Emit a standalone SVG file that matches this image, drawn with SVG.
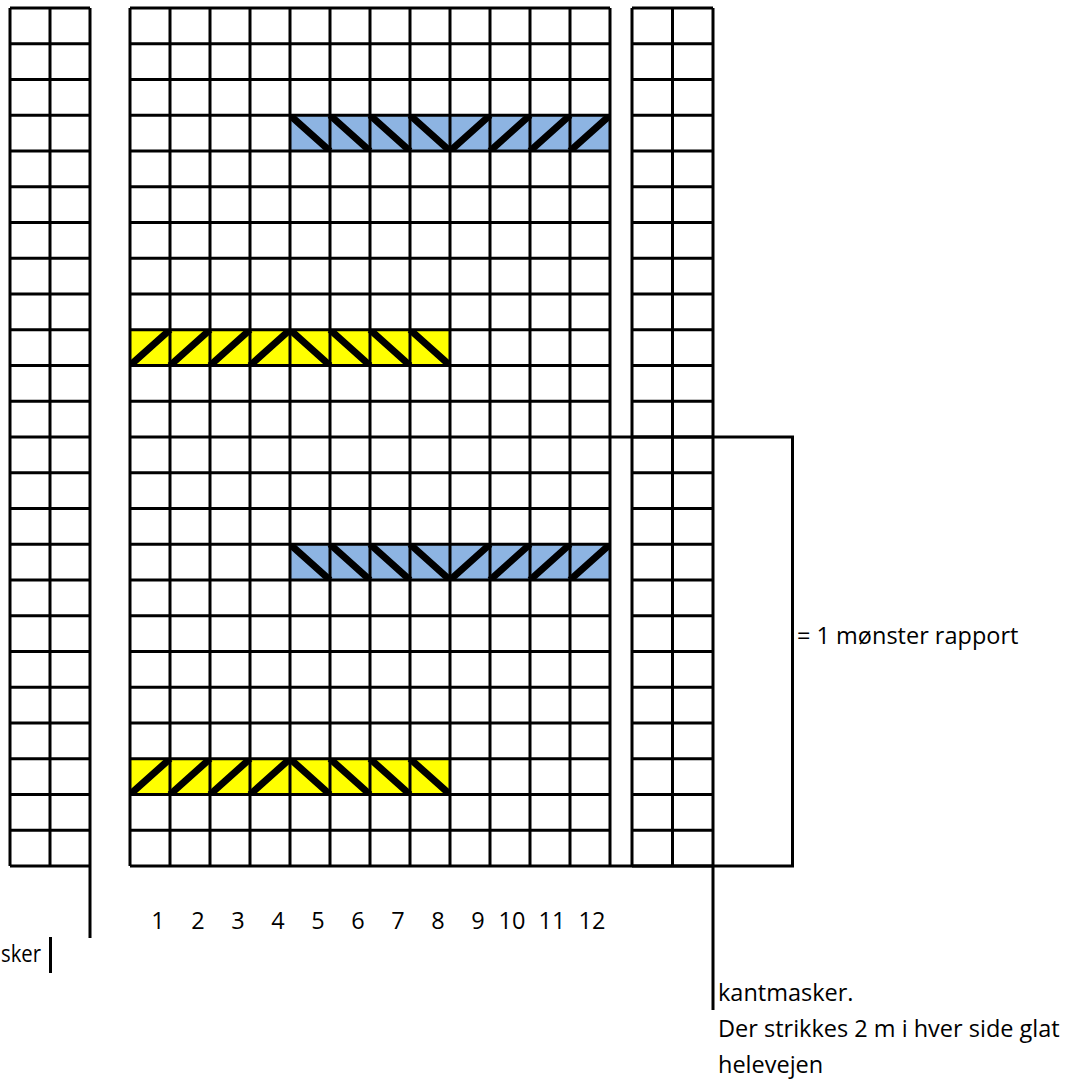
<svg xmlns="http://www.w3.org/2000/svg" width="1072" height="1079" viewBox="0 0 1072 1079">
<style>
.grid{fill:none;stroke:#000;stroke-width:3}
.diag{fill:none;stroke:#000;stroke-width:7;stroke-linecap:butt}
.blue{fill:#8DB4E2}
.yellow{fill:#FFFF00}
text{font-family:"Open Sans","Liberation Sans",sans-serif;font-size:23.5px;fill:#000}
.num{text-anchor:middle}
</style>
<defs>
<clipPath id="cb1"><rect x="290" y="115.25" width="320" height="35.75"/></clipPath>
<clipPath id="cb2"><rect x="290" y="544.25" width="320" height="35.75"/></clipPath>
<clipPath id="cy1"><rect x="130" y="329.75" width="320" height="35.75"/></clipPath>
<clipPath id="cy2"><rect x="130" y="758.75" width="320" height="35.75"/></clipPath>
</defs>
<rect width="1072" height="1079" fill="#fff"/>

<g id="pattern-rows">
<g id="blue-row-1">
<rect class="blue" x="290" y="115.25" width="320" height="35.75"/>
<path class="diag" clip-path="url(#cb1)" d="M290 115.25L330 151M330 115.25L370 151M370 115.25L410 151M410 115.25L450 151M450 151L490 115.25M490 151L530 115.25M530 151L570 115.25M570 151L610 115.25"/>
</g>
<g id="yellow-row-1">
<rect class="yellow" x="130" y="329.75" width="320" height="35.75"/>
<path class="diag" clip-path="url(#cy1)" d="M130 365.5L170 329.75M170 365.5L210 329.75M210 365.5L250 329.75M250 365.5L290 329.75M290 329.75L330 365.5M330 329.75L370 365.5M370 329.75L410 365.5M410 329.75L450 365.5"/>
</g>
<g id="blue-row-2">
<rect class="blue" x="290" y="544.25" width="320" height="35.75"/>
<path class="diag" clip-path="url(#cb2)" d="M290 544.25L330 580M330 544.25L370 580M370 544.25L410 580M410 544.25L450 580M450 580L490 544.25M490 580L530 544.25M530 580L570 544.25M570 580L610 544.25"/>
</g>
<g id="yellow-row-2">
<rect class="yellow" x="130" y="758.75" width="320" height="35.75"/>
<path class="diag" clip-path="url(#cy2)" d="M130 794.5L170 758.75M170 794.5L210 758.75M210 794.5L250 758.75M250 794.5L290 758.75M290 758.75L330 794.5M330 758.75L370 794.5M370 758.75L410 794.5M410 758.75L450 794.5"/>
</g>
</g>

<g id="left-grid">
<path class="grid" d="M10 8V866M50 8V866M90 8V938"/>
<path class="grid" d="M10 8H90M10 43.75H90M10 79.5H90M10 115.25H90M10 151H90M10 186.75H90M10 222.5H90M10 258.25H90M10 294H90M10 329.75H90M10 365.5H90M10 401.25H90M10 437H90M10 472.75H90M10 508.5H90M10 544.25H90M10 580H90M10 615.75H90M10 651.5H90M10 687.25H90M10 723H90M10 758.75H90M10 794.5H90M10 830.25H90M10 866H90"/>
</g>

<g id="main-grid">
<path class="grid" d="M130 8V866M170 8V866M210 8V866M250 8V866M290 8V866M330 8V866M370 8V866M410 8V866M450 8V866M490 8V866M530 8V866M570 8V866M610 8V866"/>
<path class="grid" d="M130 8H610M130 43.75H610M130 79.5H610M130 115.25H610M130 151H610M130 186.75H610M130 222.5H610M130 258.25H610M130 294H610M130 329.75H610M130 365.5H610M130 401.25H610M130 437H610M130 472.75H610M130 508.5H610M130 544.25H610M130 580H610M130 615.75H610M130 651.5H610M130 687.25H610M130 723H610M130 758.75H610M130 794.5H610M130 830.25H610M130 866H610"/>
</g>

<g id="right-grid">
<path class="grid" d="M632 8V866M672.5 8V866M713 8V1010"/>
<path class="grid" d="M632 8H713M632 43.75H713M632 79.5H713M632 115.25H713M632 151H713M632 186.75H713M632 222.5H713M632 258.25H713M632 294H713M632 329.75H713M632 365.5H713M632 401.25H713M632 437H713M632 472.75H713M632 508.5H713M632 544.25H713M632 580H713M632 615.75H713M632 651.5H713M632 687.25H713M632 723H713M632 758.75H713M632 794.5H713M632 830.25H713M632 866H713"/>
</g>

<g id="connectors">
<path class="grid" d="M610 437H792.5V866H610"/>
<path class="grid" d="M50.5 937V973"/>
</g>

<g id="labels">
<text x="797" y="644">= 1 mønster rapport</text>
<text x="1" y="962" textLength="40" lengthAdjust="spacingAndGlyphs">sker</text>
<text x="718" y="1001">kantmasker.</text>
<text x="718" y="1037">Der strikkes 2 m i hver side glat</text>
<text x="718" y="1073">helevejen</text>
<g class="num">
<text x="158" y="929">1</text>
<text x="198" y="929">2</text>
<text x="238" y="929">3</text>
<text x="278" y="929">4</text>
<text x="318" y="929">5</text>
<text x="358" y="929">6</text>
<text x="398" y="929">7</text>
<text x="438" y="929">8</text>
<text x="478" y="929">9</text>
<text x="512" y="929">10</text>
<text x="552" y="929">11</text>
<text x="592" y="929">12</text>
</g>
</g>
</svg>
